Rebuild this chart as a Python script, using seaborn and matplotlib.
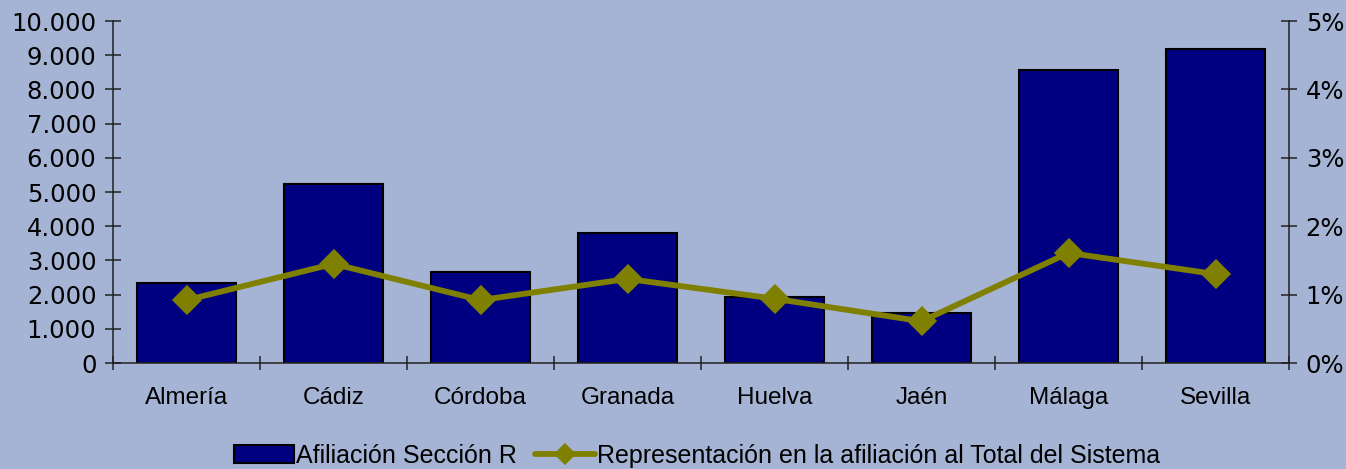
import matplotlib
matplotlib.use("Agg")
import matplotlib.pyplot as plt
from matplotlib.ticker import FuncFormatter, PercentFormatter, FixedLocator
import seaborn as sns

# =========================
# DATA
# =========================

provincias = ["Almería", "Cádiz", "Córdoba", "Granada", "Huelva", "Jaén", "Málaga", "Sevilla"]
afiliacion = [2340, 5230, 2660, 3800, 1930, 1460, 8570, 9180]
representacion = [0.92, 1.45, 0.92, 1.23, 0.94, 0.61, 1.61, 1.30]

label_bar = "Afiliación Sección R"
label_line = "Representación en la afiliación al Total del Sistema"

# =========================
# STYLE
# =========================

BG = "#A5B4D4"
NAVY = "#000080"
OLIVE = "#808000"
AXC = "#222222"

sns.set_style("ticks")
plt.rcParams["font.family"] = ["DejaVu Sans"]
plt.rcParams["text.color"] = "black"
plt.rcParams["xtick.color"] = "black"
plt.rcParams["ytick.color"] = "black"

fig = plt.figure(figsize=(13.46, 4.69), dpi=100, facecolor=BG)
ax = fig.add_axes([0.084, 0.226, 0.8737, 0.729], facecolor=BG)

sns.barplot(x=provincias, y=afiliacion, ax=ax, color=NAVY, saturation=1,
            width=0.67, edgecolor="black", linewidth=1.5, label=label_bar)

ax2 = ax.twinx()
sns.pointplot(x=provincias, y=representacion, ax=ax2, color=OLIVE, markers="D",
              linestyles="-", errorbar=None, linewidth=4.2, markersize=12,
              label=label_line)

# =========================
# AXES
# =========================

ax.set_xlim(-0.5, len(provincias) - 0.5)
ax.set_ylim(0, 10000)
ax.set_yticks(range(0, 10001, 1000))
ax.yaxis.set_major_formatter(FuncFormatter(lambda v, p: f"{int(v):,}".replace(",", ".")))
ax2.set_ylim(0, 5)
ax2.set_yticks(range(0, 6))
ax2.yaxis.set_major_formatter(PercentFormatter(xmax=100, decimals=0))

for a in (ax, ax2):
    a.spines["top"].set_visible(False)
    for s in ["left", "right", "bottom"]:
        a.spines[s].set_color(AXC)
        a.spines[s].set_linewidth(1.1)
    a.set_xlabel("")
    a.set_ylabel("")

ax.spines["right"].set_visible(False)
ax2.spines["left"].set_visible(False)
ax2.spines["bottom"].set_visible(False)

ax.tick_params(axis="y", direction="inout", length=12, width=1.1, color=AXC,
               labelsize=17.5, pad=6, labelcolor="black")
ax2.tick_params(axis="y", direction="inout", length=12, width=1.1, color=AXC,
                labelsize=17.5, pad=6, labelcolor="black")

ax.xaxis.set_minor_locator(FixedLocator([i - 0.5 for i in range(len(provincias) + 1)]))
ax.tick_params(axis="x", which="major", length=0, pad=17, labelcolor="black")
ax.tick_params(axis="x", which="minor", direction="inout", length=10, width=1.1, color=AXC)
for t in ax.get_xticklabels():
    t.set_family("Liberation Sans")
    t.set_fontsize(17.5)
ax2.tick_params(axis="x", which="both", length=0, labelbottom=False)

# =========================
# LEGEND
# =========================

h1 = ax.containers[0]
h2 = ax2.lines[0]
if ax.get_legend():
    ax.get_legend().remove()
if ax2.get_legend():
    ax2.get_legend().remove()
fig.legend([h1, h2], [label_bar, label_line], loc="lower center",
           bbox_to_anchor=(0.518, -0.045), ncol=2, frameon=False,
           prop={"family": "Liberation Sans", "size": 18},
           handlelength=2.4, handleheight=0.75, handletextpad=0.1,
           columnspacing=0.7, numpoints=1, markerscale=0.7)

fig.savefig("out.png", dpi=100, facecolor=BG)
